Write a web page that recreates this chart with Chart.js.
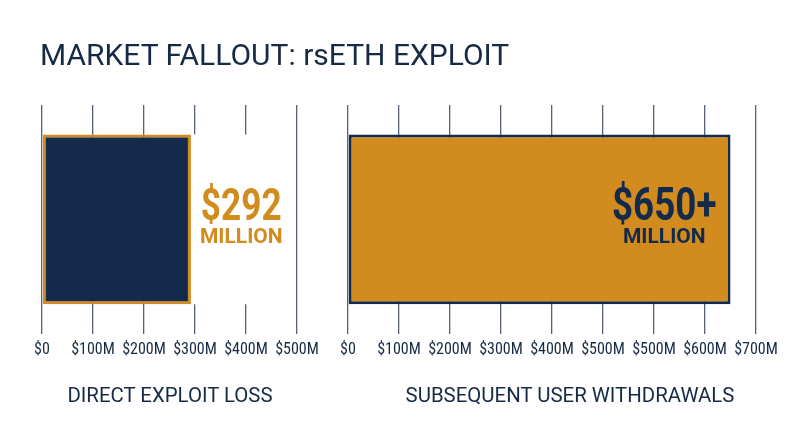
<!DOCTYPE html>
<html>
<head>
<meta charset="utf-8">
<script src="https://cdn.jsdelivr.net/npm/chart.js@4.4.1/dist/chart.umd.min.js"></script>
<style>
html,body{margin:0;padding:0;background:#fff;}
#wrap{position:relative;width:800px;height:447px;overflow:hidden;font-family:Roboto,sans-serif;color:#172a45;}
canvas{position:absolute;left:0;top:0;}
#title{position:absolute;left:40px;top:40px;font-size:30px;line-height:30px;white-space:nowrap;}
.cat{position:absolute;top:385px;width:340px;font-size:20.4px;line-height:20.4px;text-align:center;white-space:nowrap;}
</style>
</head>
<body>
<div id="wrap">
  <canvas id="leftChart" width="800" height="447"></canvas>
  <canvas id="rightChart" width="800" height="447"></canvas>
  <div id="title">MARKET FALLOUT: rsETH EXPLOIT</div>
  <div class="cat" id="cat0" style="left:0px"></div>
  <div class="cat" id="cat1" style="left:400px"></div>
</div>
<script>
// data
var categories=['DIRECT EXPLOIT LOSS','SUBSEQUENT USER WITHDRAWALS'];
var leftValues=[292];
var rightValues=[650];
var leftTickValues=[0,100,200,300,400,500];
var leftTicks=['$0','$100M','$200M','$300M','$400M','$500M'];
// the right axis really does repeat $500M
var rightTickValues=[0,100,200,300,400,500,500,600,700];
var rightTicks=['$0','$100M','$200M','$300M','$400M','$500M','$500M','$600M','$700M'];
var valueLabels=['$292','$650+'];
var unitLabel='MILLION';

var navy='#142a4a';
var orange='#d18b1f';
var ink='#172a45';

document.getElementById('cat0').textContent=categories[0];
document.getElementById('cat1').textContent=categories[1];

// axis is laid out by tick index, so map a money value onto it
function toPos(v,tickVals){
    for(var i=tickVals.length-2;i>=0;i--){
        var a=tickVals[i],b=tickVals[i+1];
        if(b>a && v>=a && v<=b){
            return i+(v-a)/(b-a);
        }
    }
    return 0;
}

var unitFont='bold 21px Roboto';
var squeeze=0.8;

function labelSize(ctx,numFont,num){
    ctx.font=numFont;
    var w1=ctx.measureText(num).width*squeeze;
    ctx.font=unitFont;
    var w2=ctx.measureText(unitLabel).width;
    return Math.max(w1,w2);
}

var barLabel={
    id:'barLabel',
    beforeDatasetsDraw:function(chart,args,o){
        if(!o.gap) return;
        // the label on the left panel sits on a white patch over the grid
        var bar=chart.getDatasetMeta(0).data[0];
        var ctx=chart.ctx;
        var gw=labelSize(ctx,o.numFont,o.text);
        ctx.save();
        ctx.fillStyle='#fff';
        ctx.fillRect(bar.x,bar.y-bar.height/2,gw+15,bar.height);
        ctx.restore();
    },
    afterDatasetsDraw:function(chart,args,o){
        var bar=chart.getDatasetMeta(0).data[0];
        var ctx=chart.ctx;
        ctx.save();
        var gw=labelSize(ctx,o.numFont,o.text);
        var cx=o.inside ? bar.x-14-gw/2 : bar.x+9+gw/2;
        ctx.fillStyle=o.color;
        ctx.textAlign='center';
        ctx.textBaseline='alphabetic';
        ctx.font=unitFont;
        ctx.fillText(unitLabel,cx,bar.y+24);
        ctx.translate(cx,bar.y+1);
        ctx.scale(squeeze,1);
        ctx.font=o.numFont;
        ctx.fillText(o.text,0,0);
        ctx.restore();
    }
};

function makeChart(id,value,tickVals,tickLabels,fill,border,pad,lbl){
    return new Chart(document.getElementById(id).getContext('2d'),{
        type:'bar',
        data:{
            labels:[''],
            datasets:[{
                data:[toPos(value,tickVals)],
                backgroundColor:fill,
                borderColor:border,
                borderWidth:3,
                borderSkipped:false,
                barPercentage:0.742,
                categoryPercentage:1
            }]
        },
        options:{
            indexAxis:'y',
            responsive:false,
            animation:false,
            layout:{padding:pad},
            plugins:{legend:{display:false},tooltip:{enabled:false},barLabel:lbl},
            scales:{
                y:{display:false},
                x:{
                    min:0,max:tickVals.length-1,
                    border:{display:false},
                    grid:{color:'#56607a',lineWidth:1.3,drawTicks:false},
                    ticks:{
                        stepSize:1,
                        padding:7,
                        color:ink,
                        maxRotation:0,
                        autoSkip:false,
                        font:{family:'Roboto',weight:'condensed',size:16},
                        callback:function(v,i){return tickLabels[i];}
                    }
                }
            }
        },
        plugins:[barLabel]
    });
}

makeChart('leftChart',leftValues[0],leftTickValues,leftTicks,navy,orange,
    {left:42,right:503,top:105,bottom:80},
    {text:valueLabels[0],color:orange,numFont:'bold 44px Roboto',inside:false,gap:true});
makeChart('rightChart',rightValues[0],rightTickValues,rightTicks,orange,navy,
    {left:348,right:44,top:105,bottom:80},
    {text:valueLabels[1],color:navy,numFont:'bold 46px Roboto',inside:true,gap:false});
</script>
</body>
</html>
